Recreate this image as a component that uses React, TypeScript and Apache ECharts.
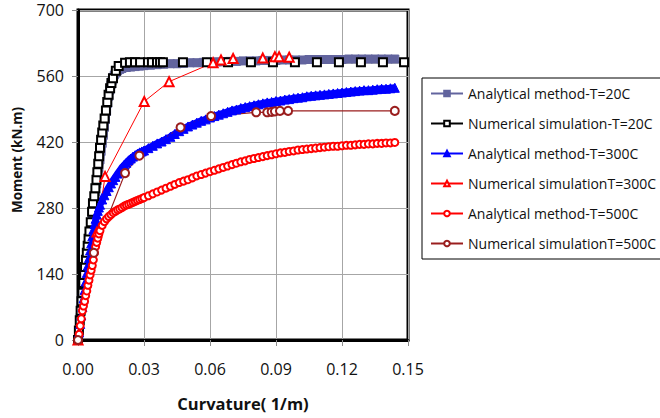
import React, { useEffect, useRef } from "react";
import * as echarts from "echarts";

const xTicks = [0, 0.03, 0.06, 0.09, 0.12, 0.15];
const yTicks = [0, 140, 280, 420, 560, 700];

const seriesNames = [
  "Analytical method-T=20C",
  "Numerical simulation-T=20C",
  "Analytical method-T=300C",
  "Numerical simulationT=300C",
  "Analytical method-T=500C",
  "Numerical simulationT=500C",
];

const analytical20: number[][] = [
  [0, 0], [0.0005, 22], [0.001, 48], [0.0015, 70], [0.002, 92], [0.0025, 115], [0.003, 134], [0.0035, 153],
  [0.004, 172], [0.0045, 190], [0.005, 208], [0.0055, 226], [0.006, 244], [0.0065, 262], [0.007, 280],
  [0.0075, 297], [0.008, 314], [0.0085, 331], [0.009, 348], [0.0095, 365], [0.01, 382], [0.0105, 400],
  [0.011, 417], [0.0115, 434], [0.012, 451], [0.0125, 468], [0.013, 485], [0.0135, 502], [0.014, 517],
  [0.0145, 530], [0.015, 541], [0.0155, 550], [0.016, 557], [0.0165, 562], [0.017, 566], [0.0175, 569],
  [0.018, 571], [0.019, 574], [0.02, 576], [0.022, 578], [0.024, 579], [0.026, 580], [0.028, 581],
  [0.03, 582], [0.033, 583], [0.036, 584], [0.039, 585], [0.042, 586], [0.045, 586], [0.048, 587],
  [0.051, 588], [0.054, 588], [0.057, 589], [0.06, 589], [0.063, 590], [0.066, 590], [0.069, 591],
  [0.072, 591], [0.075, 592], [0.078, 592], [0.081, 592], [0.084, 593], [0.087, 593], [0.09, 593],
  [0.093, 594], [0.096, 594], [0.099, 594], [0.102, 594], [0.105, 595], [0.108, 595], [0.111, 595],
  [0.114, 595], [0.117, 595], [0.12, 595], [0.123, 596], [0.126, 596], [0.129, 596], [0.132, 596],
  [0.135, 596], [0.138, 596], [0.141, 596], [0.144, 596],
];

const numerical20: number[][] = [
  [0, 0], [0.0004, 20], [0.0008, 42], [0.0012, 62], [0.0016, 82], [0.002, 100], [0.0024, 121],
  [0.0028, 138], [0.0032, 155], [0.0036, 170], [0.004, 185], [0.0044, 200], [0.0048, 215], [0.0052, 230],
  [0.0058, 250], [0.0064, 272], [0.0068, 290], [0.0074, 305], [0.0079, 322], [0.0084, 340], [0.0088, 356],
  [0.0092, 374], [0.0096, 390], [0.01, 408], [0.0105, 425], [0.011, 440], [0.0115, 455], [0.0121, 470],
  [0.0127, 487], [0.0133, 505], [0.0139, 520], [0.0146, 534], [0.0152, 545], [0.0159, 555], [0.0172, 571],
  [0.0185, 581], [0.0214, 588], [0.0236, 589], [0.0259, 589], [0.0282, 589], [0.0318, 589], [0.0336, 589],
  [0.0359, 589], [0.0373, 589], [0.0386, 589], [0.0477, 589], [0.0586, 589], [0.0682, 589], [0.0786, 589],
  [0.0886, 589], [0.0986, 589], [0.1086, 589], [0.1186, 589], [0.1286, 589], [0.1386, 589], [0.1482, 589],
];

const analytical300: number[][] = [
  [0, 0], [0.0005, 16], [0.001, 34], [0.0015, 52], [0.002, 70], [0.0025, 88], [0.003, 106], [0.0035, 124],
  [0.004, 142], [0.0045, 158], [0.005, 174], [0.0055, 190], [0.006, 205], [0.0065, 220], [0.007, 234],
  [0.0075, 246], [0.008, 257], [0.0085, 266], [0.009, 274], [0.0095, 281], [0.01, 287], [0.011, 298],
  [0.012, 307], [0.013, 316], [0.014, 324], [0.015, 332], [0.016, 339], [0.017, 346], [0.018, 353],
  [0.019, 359], [0.02, 366], [0.021, 371], [0.022, 376], [0.023, 381], [0.024, 385], [0.025, 389],
  [0.026, 392], [0.027, 395], [0.028, 398], [0.029, 400], [0.03, 402], [0.032, 407], [0.034, 412],
  [0.036, 417], [0.038, 421], [0.04, 426], [0.042, 431], [0.044, 437], [0.046, 443], [0.048, 448],
  [0.05, 453], [0.052, 457], [0.054, 461], [0.056, 465], [0.058, 468], [0.06, 472], [0.062, 475],
  [0.064, 478], [0.066, 481], [0.068, 484], [0.07, 487], [0.072, 489], [0.074, 492], [0.076, 494],
  [0.078, 496], [0.08, 498], [0.082, 500], [0.084, 502], [0.086, 504], [0.088, 505], [0.09, 507],
  [0.092, 508], [0.094, 510], [0.096, 511], [0.098, 513], [0.1, 514], [0.102, 515], [0.104, 517],
  [0.106, 518], [0.108, 519], [0.11, 520], [0.112, 521], [0.114, 522], [0.116, 523], [0.118, 524],
  [0.12, 525], [0.122, 526], [0.124, 527], [0.126, 528], [0.128, 529], [0.13, 530], [0.132, 530],
  [0.134, 531], [0.136, 532], [0.138, 533], [0.14, 533], [0.142, 534], [0.144, 535],
];

const numerical300: number[][] = [
  [0, 0], [0.0086, 229], [0.0123, 347], [0.0301, 506], [0.0414, 548], [0.0614, 588], [0.065, 594],
  [0.0705, 597], [0.084, 598], [0.0895, 601], [0.0914, 601], [0.096, 600],
];

const analytical500: number[][] = [
  [0, 0], [0.0005, 12], [0.001, 30], [0.0015, 45], [0.002, 62], [0.0025, 72], [0.003, 82], [0.0035, 94],
  [0.004, 104], [0.0045, 116], [0.005, 127], [0.0055, 138], [0.006, 148], [0.0065, 158], [0.007, 170],
  [0.0075, 185], [0.008, 198], [0.0085, 207], [0.009, 216], [0.0095, 225], [0.01, 232], [0.011, 243],
  [0.012, 251], [0.013, 257], [0.014, 262], [0.015, 266], [0.016, 270], [0.017, 273], [0.018, 276],
  [0.019, 278], [0.02, 281], [0.021, 284], [0.022, 286], [0.023, 288], [0.024, 290], [0.025, 292],
  [0.026, 294], [0.027, 296], [0.028, 298], [0.029, 300], [0.03, 302], [0.032, 306], [0.034, 310],
  [0.036, 314], [0.038, 318], [0.04, 322], [0.042, 326], [0.044, 330], [0.046, 334], [0.048, 337],
  [0.05, 340], [0.052, 344], [0.054, 348], [0.056, 351], [0.058, 354], [0.06, 357], [0.062, 360],
  [0.064, 363], [0.066, 366], [0.068, 369], [0.07, 372], [0.072, 375], [0.074, 378], [0.076, 380],
  [0.078, 383], [0.08, 385], [0.082, 387], [0.084, 389], [0.086, 391], [0.088, 393], [0.09, 395],
  [0.092, 397], [0.094, 398], [0.096, 400], [0.098, 401], [0.1, 403], [0.102, 404], [0.104, 405],
  [0.106, 406], [0.108, 407], [0.11, 408], [0.112, 409], [0.114, 410], [0.116, 411], [0.118, 411],
  [0.12, 412], [0.122, 413], [0.124, 413], [0.126, 414], [0.128, 415], [0.13, 415], [0.132, 416],
  [0.134, 416], [0.136, 417], [0.138, 417], [0.14, 418], [0.142, 418], [0.144, 419],
];

const numerical500: number[][] = [
  [0, 0], [0.0072, 185], [0.0214, 354], [0.0279, 391], [0.0466, 451], [0.0605, 475], [0.081, 483],
  [0.086, 483], [0.088, 484], [0.0895, 485], [0.0918, 486], [0.0955, 486], [0.144, 486],
];

const FONT = "Open Sans";

export default function App() {
  const ref = useRef<HTMLDivElement>(null);
  useEffect(() => {
    document.body.style.margin = "0";
    const chart = echarts.init(ref.current!, null, { renderer: "svg" });
    const slate = "#62649e";
    const darkRed = "#9a1e1e";
    const styles = [
      { symbol: "rect", size: 8, lw: 8, color: slate, bw: 0 },
      { symbol: "emptyRect", size: 8, lw: 2, color: "#000", bw: 1.3 },
      { symbol: "triangle", size: 9, lw: 7, color: "#0000ff", bw: 0 },
      { symbol: "emptyTriangle", size: 9, lw: 1, color: "#ff0000", bw: 1.2 },
      { symbol: "emptyCircle", size: 7, lw: 2, color: "#ff0000", bw: 1.2 },
      { symbol: "emptyCircle", size: 8, lw: 1.2, color: darkRed, bw: 1.2 },
    ];
    const dataSets = [analytical20, numerical20, analytical300, numerical300, analytical500, numerical500];
    // legend-only series (empty data) so that legend symbols are small
    const legendSeries = seriesNames.map((name, i) => ({
      name, type: "line", data: [],
      symbol: styles[i].symbol, symbolSize: 6,
      itemStyle: { color: styles[i].color, borderColor: styles[i].color, borderWidth: 1.2 },
      lineStyle: { color: styles[i].color, width: 2 },
    }));
    const realSeries = seriesNames.map((name, i) => ({
      name, type: "line", data: dataSets[i],
      symbol: styles[i].symbol, symbolSize: styles[i].size,
      itemStyle: { color: styles[i].color, borderColor: styles[i].color, borderWidth: styles[i].bw || undefined },
      lineStyle: { color: styles[i].color, width: styles[i].lw },
    }));
    chart.setOption({
      animation: false,
      backgroundColor: "#ffffff",
      grid: {
        left: 78, right: 252, top: 10, bottom: 78,
        show: true, borderColor: "#000", borderWidth: 3, backgroundColor: "transparent",
      },
      xAxis: {
        type: "value", min: 0, max: 0.15, interval: 0.03,
        name: "Curvature( 1/m)", nameLocation: "middle", nameGap: 55,
        nameTextStyle: { fontFamily: FONT, fontSize: 16.5, fontWeight: "bold", color: "#111" },
        axisLine: { show: true, onZero: false, lineStyle: { color: "#000", width: 3 } },
        axisTick: { show: true, length: 6, lineStyle: { color: "#8c8c8c", width: 1 } },
        axisLabel: {
          margin: 21, fontFamily: FONT, fontSize: 16, color: "#111",
          formatter: (v: number) => (xTicks.some((t) => Math.abs(t - v) < 1e-9) ? v.toFixed(2) : ""),
        },
        splitLine: { show: true, lineStyle: { color: "#a6a6a6", width: 1 } },
      },
      yAxis: {
        type: "value", min: 0, max: 700, interval: 140,
        axisLine: { show: true, onZero: false, lineStyle: { color: "#000", width: 3 } },
        axisTick: { show: true, length: 6, lineStyle: { color: "#8c8c8c", width: 1 } },
        axisLabel: {
          margin: 14, fontFamily: FONT, fontSize: 16, color: "#111",
          formatter: (v: number) => (yTicks.includes(v) ? String(v) : ""),
        },
        splitLine: { show: true, lineStyle: { color: "#a6a6a6", width: 1 } },
      },
      legend: {
        orient: "vertical", left: 422, top: 78,
        padding: [6, 10, 6, 8], itemWidth: 32, itemHeight: 7, itemGap: 11,
        borderColor: "#000", borderWidth: 1,
        textStyle: { fontFamily: FONT, fontSize: 14, color: "#111", lineHeight: 19 },
        lineStyle: { width: 2 },
        data: seriesNames,
      },
      graphic: [
        {
          type: "text", x: 17, y: 160, rotation: Math.PI / 2,
          style: {
            text: "Moment (kN.m)", fontFamily: FONT, fontSize: 13.5, fontWeight: "bold",
            fill: "#111", align: "center", verticalAlign: "middle",
          },
        },
      ],
      series: [...legendSeries, ...realSeries],
    });
    return () => chart.dispose();
  }, []);
  return <div ref={ref} style={{ width: 660, height: 418 }} />;
}
